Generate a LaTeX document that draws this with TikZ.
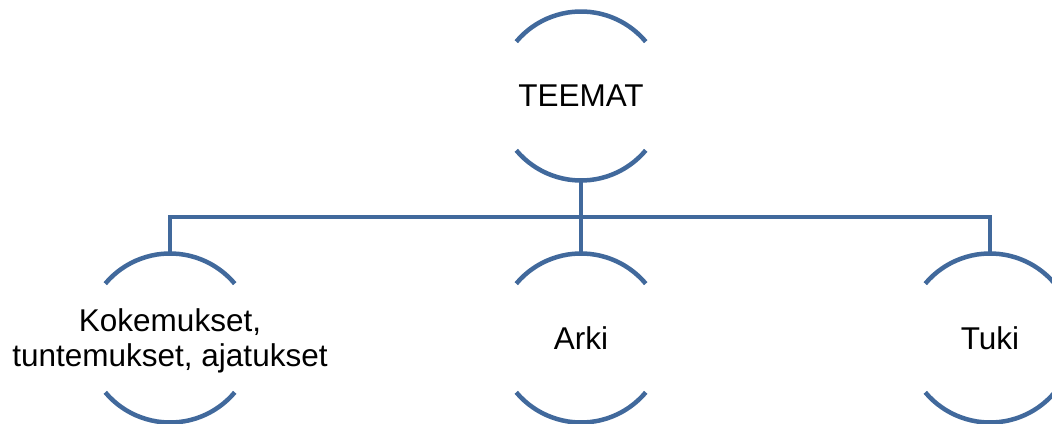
\documentclass[tikz,border=0pt]{standalone}
\usepackage{fontspec}
\setmainfont{Liberation Sans}
\usetikzlibrary{calc}
\definecolor{linkblue}{HTML}{41699C}
\begin{document}
\begin{tikzpicture}[x=1pt,y=1pt,
  holder/.style={circle,minimum size=169pt,inner sep=0pt,outer sep=0pt,
    align=center,font=\fontsize{31.5}{35.5}\selectfont},
  caption/.style={align=center,inner sep=0pt,yshift=-3pt,font=\fontsize{31.5}{35.5}\selectfont},
  rim/.style={draw=linkblue,line width=4.5pt},
  link/.style={draw=linkblue,line width=4.5pt}]
\useasboundingbox (0,0) rectangle (1052,423);
\node[holder] (t) at (581,327) {TEEMAT};
\node[holder,label={[caption]center:Kokemukset,\\tuntemukset, ajatukset}] (k) at (170,85) {};
\node[holder] (a) at (581,85) {Arki};
\node[holder] (u) at (990,85) {Tuki};
\foreach \n in {t,k,a,u}{
  \draw[rim] (\n.140) arc[start angle=140,end angle=40,radius=84.5pt];
  \draw[rim] (\n.-140) arc[start angle=-140,end angle=-40,radius=84.5pt];
}
\coordinate (bus) at ($(t.south)!0.5!(a.north)$);
\draw[link] (t.south) -- (a.north);
\draw[link] (k.north) |- (bus) -| (u.north);
\end{tikzpicture}
\end{document}
